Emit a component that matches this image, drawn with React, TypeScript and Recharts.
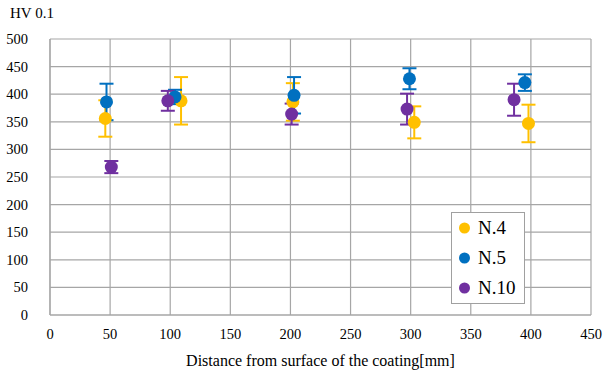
import { ScatterChart, Scatter, XAxis, YAxis, CartesianGrid, ErrorBar } from 'recharts'

const n4X = [46, 109, 202, 303, 398]
const n4Y = [356, 388, 386, 349, 347]
const n4Err = [33, 43, 34, 29, 34]

const n5X = [47, 104, 203, 299, 395]
const n5Y = [386, 395, 398, 428, 421]
const n5Err = [33, 13, 33, 19, 15]

const n10X = [51, 98, 201, 297, 386]
const n10Y = [268, 388, 364, 373, 390]
const n10Err = [11, 18, 19, 28, 29]

const xTicks = [0, 50, 100, 150, 200, 250, 300, 350, 400, 450]
const yTicks = [0, 50, 100, 150, 200, 250, 300, 350, 400, 450, 500]

const seriesNames = ['N.4', 'N.5', 'N.10']
const seriesColors = ['#FFC000', '#0070C0', '#7030A0']

const build = (xs: number[], ys: number[], errs: number[]) =>
  xs.map((x, i) => ({ x, y: ys[i], err: errs[i] }))

const series = [
  build(n4X, n4Y, n4Err),
  build(n5X, n5Y, n5Err),
  build(n10X, n10Y, n10Err),
]

const FONT = '"Liberation Serif", "Times New Roman", serif'
const tickStyle = { fontFamily: FONT, fontSize: 14.5, fill: '#000' }

function Dot(props: any) {
  const { cx, cy, fill } = props
  if (cx == null || cy == null) return null
  return <circle cx={cx} cy={cy} r={6.5} fill={fill} />
}

const renderXTick = (props: any) => (
  <text x={props.x} y={props.y + 16} textAnchor="middle" style={tickStyle}>
    {props.payload.value}
  </text>
)

const renderYTick = (props: any) => (
  <text x={props.x - 14} y={props.y + 5} textAnchor="end" style={tickStyle}>
    {props.payload.value}
  </text>
)

function LegendBox() {
  return (
    <div
      style={{
        position: 'absolute',
        left: 451,
        top: 212,
        width: 74,
        height: 92,
        background: '#fff',
        border: '1px solid #a0a0a0',
        boxSizing: 'border-box',
        fontFamily: FONT,
        fontSize: 19,
        color: '#000',
      }}
    >
      {seriesNames.map((name, i) => (
        <div key={name} style={{ display: 'flex', alignItems: 'center', height: 30 }}>
          <svg width={26} height={14}>
            <circle cx={12.5} cy={7} r={5.5} fill={seriesColors[i]} />
          </svg>
          <span>{name}</span>
        </div>
      ))}
    </div>
  )
}

export default function App() {
  return (
    <div style={{ position: 'absolute', left: 0, top: 0, width: 603, height: 374, background: '#fff', fontFamily: FONT }}>
      <ScatterChart
        width={603}
        height={374}
        margin={{ top: 39, right: 12, bottom: 29, left: 0 }}
        style={{ fontFamily: FONT }}
      >
        <CartesianGrid stroke="#a6a6a6" strokeWidth={1.2} />
        <XAxis
          type="number"
          dataKey="x"
          domain={[0, 450]}
          ticks={xTicks}
          height={30}
          allowDataOverflow
          tickLine={false}
          axisLine={{ stroke: '#a6a6a6', strokeWidth: 1.2 }}
          tick={renderXTick}
          label={{
            value: 'Distance from surface of the coating[mm]',
            position: 'bottom',
            offset: 10,
            fill: '#000',
            fontFamily: FONT,
            fontSize: 16,
          }}
        />
        <YAxis
          type="number"
          dataKey="y"
          domain={[0, 500]}
          ticks={yTicks}
          width={50}
          tickLine={false}
          axisLine={{ stroke: '#a6a6a6', strokeWidth: 1.2 }}
          tick={renderYTick}
        />
        {series.map((data, i) => (
          <Scatter
            key={seriesNames[i]}
            name={seriesNames[i]}
            data={data}
            fill={seriesColors[i]}
            shape={<Dot />}
            isAnimationActive={false}
          >
            <ErrorBar
              dataKey="err"
              direction="y"
              width={7}
              stroke={seriesColors[i]}
              strokeWidth={2}
              isAnimationActive={false}
            />
          </Scatter>
        ))}
      </ScatterChart>
      <LegendBox />
      <div
        style={{
          position: 'absolute',
          left: 10,
          top: 5,
          fontSize: 15,
          color: '#000',
        }}
      >
        HV 0.1
      </div>
    </div>
  )
}
